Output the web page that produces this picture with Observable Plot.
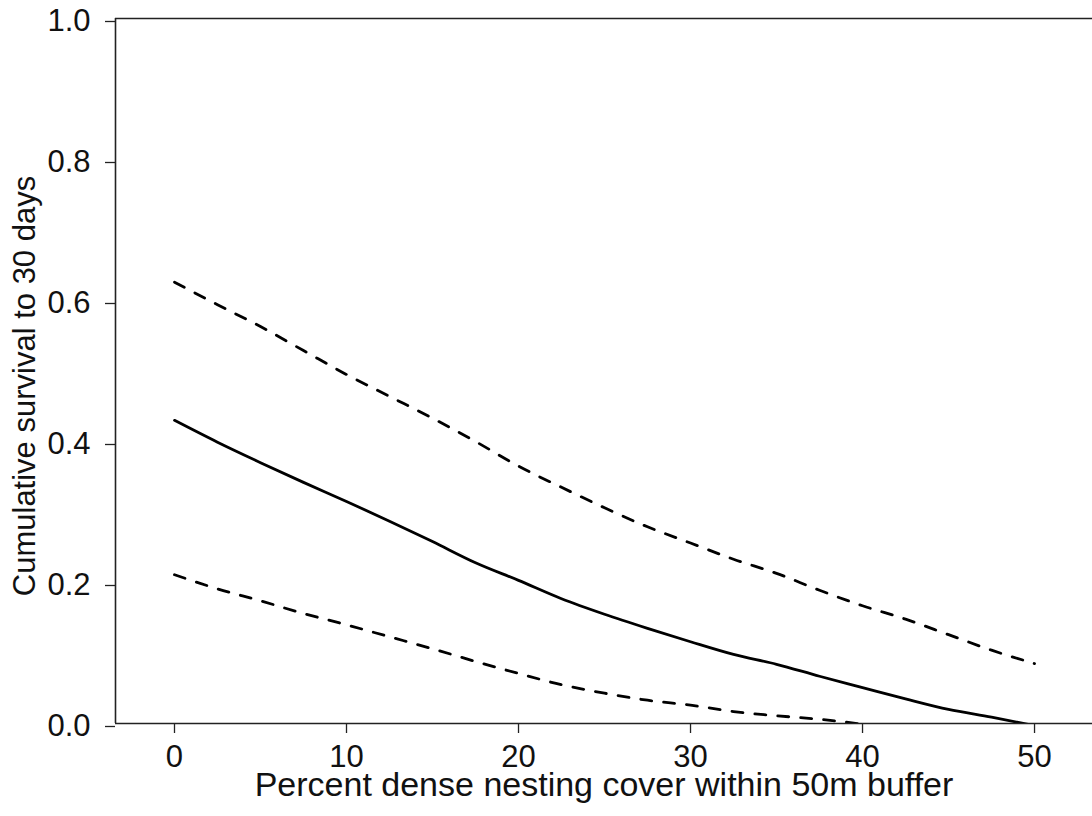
<!DOCTYPE html>
<html>
<head>
<meta charset="utf-8">
<script src="https://cdn.jsdelivr.net/npm/d3@7"></script>
<script src="https://cdn.jsdelivr.net/npm/@observablehq/plot@0.6"></script>
<style>
  html, body { margin: 0; padding: 0; background: #fff; }
</style>
</head>
<body>
<div id="chart"></div>
<script>
const cover = [0, 2.5, 5, 7.5, 10, 12.5, 15, 17.5, 20, 22.5, 25, 27.5, 30, 32.5, 35, 37.5, 40, 42.5, 45, 47.5, 50];
const estimate = [0.430, 0.399, 0.370, 0.342, 0.315, 0.287, 0.258, 0.228, 0.203, 0.177, 0.155, 0.135, 0.116, 0.098, 0.084, 0.067, 0.051, 0.035, 0.020, 0.009, -0.003];
const upperCI = [0.626, 0.594, 0.563, 0.529, 0.495, 0.464, 0.433, 0.400, 0.365, 0.335, 0.306, 0.279, 0.256, 0.233, 0.213, 0.189, 0.167, 0.148, 0.126, 0.104, 0.085];
const lowerCover = [0, 2.5, 5, 7.5, 10, 12.5, 15, 17.5, 20, 22.5, 25, 27.5, 30, 32.5, 35, 37.5, 40];
const lowerCI = [0.211, 0.191, 0.174, 0.156, 0.140, 0.123, 0.106, 0.088, 0.071, 0.055, 0.043, 0.033, 0.026, 0.017, 0.011, 0.006, -0.001];
const xTicks = [0, 10, 20, 30, 40, 50];
const yTicks = [0, 0.2, 0.4, 0.6, 0.8, 1.0];
const xTitle = "Percent dense nesting cover within 50m buffer";
const yTitle = "Cumulative survival to 30 days";

const est = cover.map((x, i) => ({x, y: estimate[i]}));
const up = cover.map((x, i) => ({x, y: upperCI[i]}));
const lo = lowerCover.map((x, i) => ({x, y: lowerCI[i]}));

const xDomain = [-3.43, 53.37];

const chart = Plot.plot({
  width: 1092,
  height: 816,
  marginLeft: 115,
  marginRight: 0,
  marginTop: 18,
  marginBottom: 93,
  style: {fontFamily: "'Liberation Sans', Arial, sans-serif", fontSize: "31px", background: "#fff", color: "#111"},
  x: {domain: xDomain},
  y: {domain: [0, 1]},
  marks: [
    Plot.line(est, {x: "x", y: "y", stroke: "#000", strokeWidth: 2.8, curve: "monotone-x", clip: true}),
    Plot.line(up, {x: "x", y: "y", stroke: "#000", strokeWidth: 2.8, strokeDasharray: "11,12", curve: "monotone-x", clip: true}),
    Plot.line(lo, {x: "x", y: "y", stroke: "#000", strokeWidth: 2.8, strokeDasharray: "11,12", curve: "monotone-x", clip: true}),
    Plot.ruleY([0, 1], {stroke: "#222", strokeWidth: 1.6}),
    Plot.ruleX([xDomain[0]], {stroke: "#222", strokeWidth: 1.6}),
    Plot.axisX(xTicks, {tickSize: 10, tickPadding: 11, fontSize: 31, label: null, stroke: "#222", strokeWidth: 1.3, tickFormat: d => String(d)}),
    Plot.axisY(yTicks, {tickSize: 10, tickPadding: 15, fontSize: 31, label: null, stroke: "#222", strokeWidth: 1.3, tickFormat: d => d.toFixed(1), dy: 3}),
    Plot.text([xTitle], {frameAnchor: "bottom", dy: 72, fontSize: 34, fill: "#111"}),
    Plot.text([yTitle], {frameAnchor: "left", textAnchor: "middle", rotate: -90, dx: -90, dy: 15, fontSize: 31, fill: "#111"})
  ]
});
document.getElementById("chart").appendChild(chart);
</script>
</body>
</html>
